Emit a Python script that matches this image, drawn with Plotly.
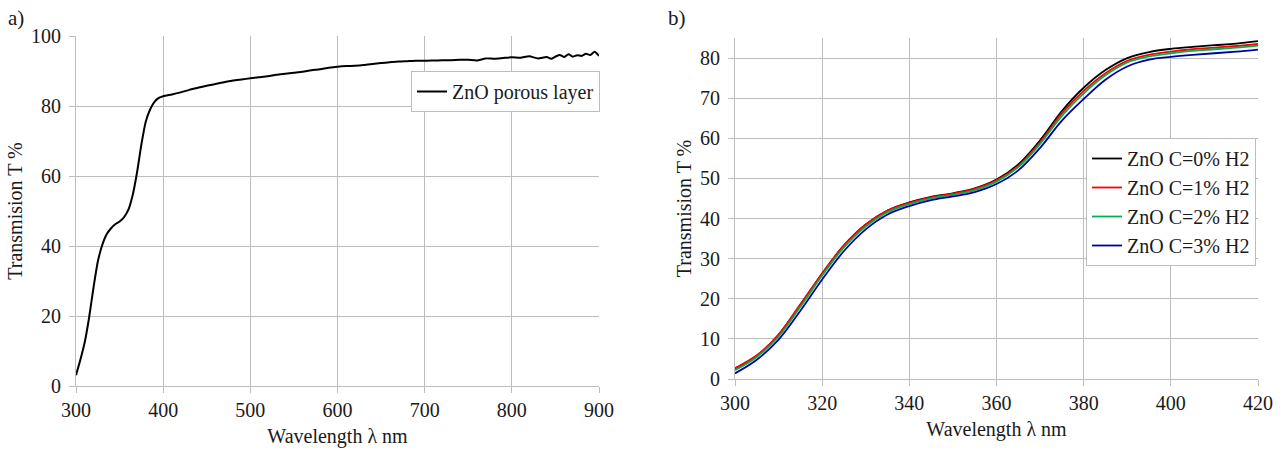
import plotly.graph_objects as go

# ---- Chart a) data ----
wl_a = [300, 305, 310, 315, 320, 325, 330, 335, 340, 345, 350, 355, 360, 365, 370, 375, 380, 385, 390, 395, 400,
        410, 420, 430, 440, 450, 460, 470, 480, 490, 500, 510, 520, 530, 540, 550, 560, 570, 580, 590, 600,
        610, 620, 630, 640, 650, 660, 670, 680, 690, 700, 710, 720, 730, 740, 750, 760, 770, 780, 790, 800,
        810, 820, 830, 840, 845, 850, 855, 860, 865, 870, 875, 880, 885, 890, 895, 900]
t_porous = [3.1, 7.5, 12.5, 19.5, 28.0, 35.5, 40.2, 43.3, 45.0, 46.2, 47.0, 48.2, 50.3, 54.5, 61.0, 69.0, 75.5, 79.0, 81.2, 82.3, 82.8,
            83.3, 83.9, 84.6, 85.2, 85.8, 86.3, 86.8, 87.3, 87.6, 87.9, 88.2, 88.5, 88.9, 89.2, 89.5, 89.8, 90.2, 90.5, 90.9, 91.2,
            91.4, 91.5, 91.7, 92.0, 92.3, 92.5, 92.7, 92.8, 92.9, 92.9, 93.0, 93.1, 93.1, 93.2, 93.2, 93.0, 93.6, 93.5, 93.7, 93.9,
            93.8, 94.2, 93.6, 94.0, 93.5, 94.1, 94.6, 94.0, 94.8, 94.1, 94.5, 94.3, 94.9, 94.6, 95.5, 94.3]

# ---- Chart b) data ----
wl_b = [300, 305, 310, 315, 320, 325, 330, 335, 340, 345, 350, 355, 360, 365, 370, 375, 380, 385, 390, 395, 400, 405, 410, 415, 420]
t_c0 = [2.6, 5.8, 11.0, 18.5, 26.3, 33.3, 38.5, 42.0, 44.0, 45.4, 46.3, 47.5, 49.7, 53.5, 59.5, 66.8, 72.6, 77.0, 80.0, 81.5, 82.3, 82.8, 83.2, 83.6, 84.2]
t_c1 = [2.7, 5.9, 11.1, 18.6, 26.3, 33.3, 38.5, 42.0, 43.9, 45.3, 46.2, 47.4, 49.5, 53.1, 59.0, 66.2, 71.8, 76.2, 79.3, 80.8, 81.6, 82.2, 82.6, 83.0, 83.5]
t_c2 = [2.2, 5.5, 10.6, 18.0, 25.8, 32.8, 38.0, 41.6, 43.6, 45.0, 45.9, 47.1, 49.2, 52.8, 58.6, 65.6, 71.2, 75.7, 78.9, 80.4, 81.2, 81.8, 82.2, 82.6, 83.1]
t_c3 = [1.4, 4.8, 9.8, 17.0, 24.8, 31.9, 37.3, 41.0, 43.1, 44.6, 45.5, 46.6, 48.6, 52.0, 57.6, 64.4, 69.8, 74.6, 77.9, 79.6, 80.3, 80.8, 81.2, 81.6, 82.1]

names_b = ["ZnO C=0% H2", "ZnO C=1% H2", "ZnO C=2% H2", "ZnO C=3% H2"]
colors_b = ["#000000", "#ff0000", "#00b050", "#0000a0"]

FONT = "'Liberation Serif', 'Times New Roman', Times, 'DejaVu Serif', serif"
GRID = "#bdbdbd"
TXT = "#1a1a1a"
FS = 20

fig = go.Figure()
fig.add_trace(go.Scatter(x=wl_a, y=t_porous, mode="lines", name="ZnO porous layer", showlegend=True,
                         line=dict(color="#000000", width=2, shape="spline", smoothing=0.6),
                         xaxis="x", yaxis="y", legend="legend"))
for ys, nm, c in zip([t_c0, t_c1, t_c2, t_c3], names_b, colors_b):
    fig.add_trace(go.Scatter(x=wl_b, y=ys, mode="lines", name=nm, showlegend=True,
                             line=dict(color=c, width=1.8, shape="spline"),
                             xaxis="x2", yaxis="y2", legend="legend2"))

axis_common = dict(showgrid=True, gridcolor=GRID, gridwidth=1, ticks="outside", ticklen=6, tickcolor=GRID,
                   showline=True, linecolor=GRID, linewidth=1, zeroline=False, automargin=False,
                   tickfont=dict(family=FONT, size=FS, color=TXT))
xt = dict(text="Wavelength λ nm", font=dict(family=FONT, size=FS, color=TXT), standoff=8)
yt = dict(text="Transmision T %", font=dict(family=FONT, size=FS, color=TXT), standoff=3)

fig.update_layout(
    width=1284, height=450, margin=dict(l=0, r=0, t=0, b=0, autoexpand=False),
    paper_bgcolor="white", plot_bgcolor="white", showlegend=True,
    font=dict(family=FONT, size=FS, color=TXT),
    xaxis=dict(domain=[76/1284, 599/1284], range=[300, 900], dtick=100, anchor="y", title=xt, **axis_common),
    yaxis=dict(domain=[1-386/450, 1-36/450], range=[0, 100], dtick=20, anchor="x", title=yt,
               ticklabelstandoff=4, **axis_common),
    xaxis2=dict(domain=[735/1284, 1258/1284], range=[300, 420], dtick=20, anchor="y2", title=xt, **axis_common),
    yaxis2=dict(domain=[1-379/450, 1-38/450], range=[0, 85], dtick=10, anchor="x2", title=yt,
                ticklabelstandoff=4, **axis_common),
    legend=dict(x=600/1284, y=1-71/450, xanchor="right", yanchor="top", bgcolor="white",
                bordercolor="#bdbdbd", borderwidth=1, itemwidth=30, font=dict(family=FONT, size=FS, color=TXT)),
    legend2=dict(x=1256/1284, y=1-138/450, xanchor="right", yanchor="top", bgcolor="white",
                 bordercolor="#bdbdbd", borderwidth=1, itemwidth=30, font=dict(family=FONT, size=FS, color=TXT)),
    annotations=[
        dict(text="a)", x=6/1284, y=1-4/450, xref="paper", yref="paper", xanchor="left", yanchor="top",
             showarrow=False, font=dict(family=FONT, size=21, color=TXT)),
        dict(text="b)", x=666/1284, y=1-4/450, xref="paper", yref="paper", xanchor="left", yanchor="top",
             showarrow=False, font=dict(family=FONT, size=21, color=TXT)),
    ],
)

fig.write_html("out.html")
